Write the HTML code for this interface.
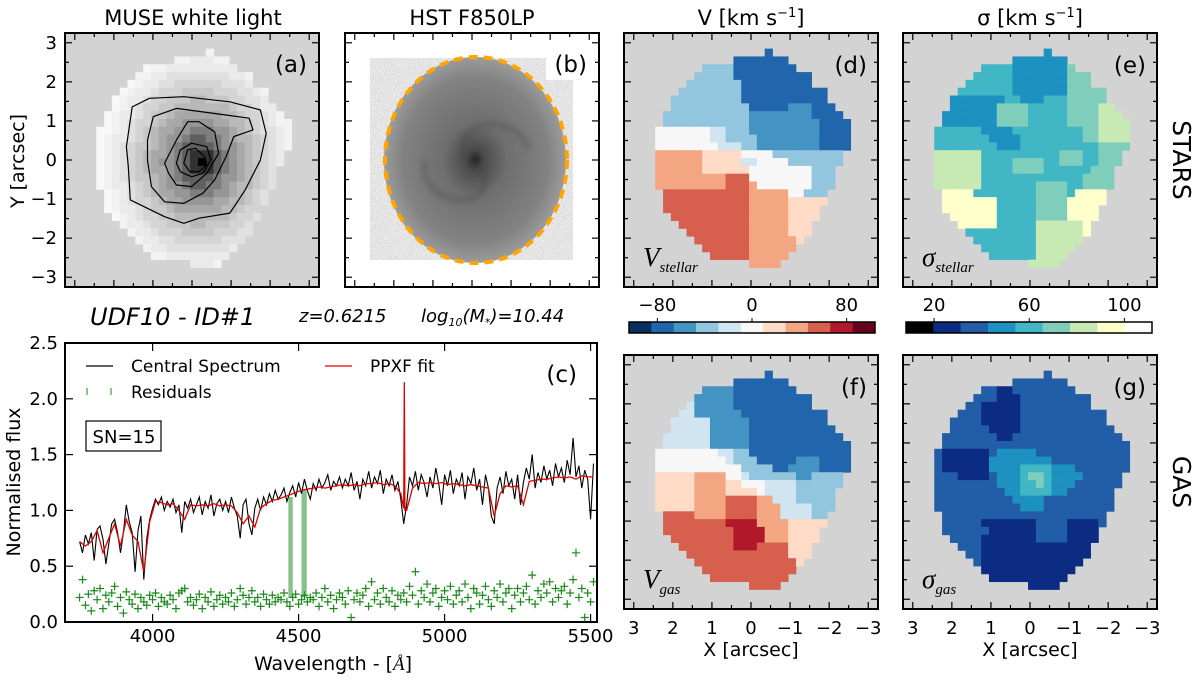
<!DOCTYPE html>
<html><head><meta charset="utf-8">
<style>
html,body{margin:0;padding:0;background:#fff;}
svg{display:block;font-family:"DejaVu Sans","Liberation Sans",sans-serif;}
</style></head>
<body>
<svg id="fig" width="1200" height="680" viewBox="0 0 1200 680" xmlns="http://www.w3.org/2000/svg">
<defs>
<filter id="noise" x="0" y="0" width="100%" height="100%">
<feTurbulence type="fractalNoise" baseFrequency="1.1" numOctaves="1" seed="4" result="t"/>
<feColorMatrix in="t" type="matrix" values="1 0 0 0 0 1 0 0 0 0 1 0 0 0 0 0 0 0 0 1" result="g"/>
<feComponentTransfer in="g" result="d"><feFuncR type="discrete" tableValues="0.55 0.7 0.85 1"/><feFuncG type="discrete" tableValues="0.55 0.7 0.85 1"/><feFuncB type="discrete" tableValues="0.55 0.7 0.85 1"/></feComponentTransfer>
<feComposite in="d" in2="SourceGraphic" operator="in"/>
</filter>
<filter id="blur2"><feGaussianBlur stdDeviation="3"/></filter>
<radialGradient id="galgrad" cx="0.5" cy="0.5" r="0.5">
<stop offset="0" stop-color="#222"/><stop offset="0.1" stop-color="#4a4a4a"/><stop offset="0.35" stop-color="#6e6e6e"/><stop offset="0.8" stop-color="#828282"/><stop offset="1" stop-color="#8e8e8e" stop-opacity="0.85"/>
</radialGradient>
</defs>
<g id="layer"></g>
<text x="193" y="25" font-size="21" text-anchor="middle">MUSE white light</text>
<text x="472" y="25" font-size="21" text-anchor="middle">HST F850LP</text>
<text x="751" y="25" font-size="21" text-anchor="middle">V [km s<tspan font-size="13" dy="-8">−1</tspan><tspan dy="8">]</tspan></text>
<text x="1030" y="25" font-size="21" text-anchor="middle">σ [km s<tspan font-size="13" dy="-8">−1</tspan><tspan dy="8">]</tspan></text>
<text transform="translate(1173,160) rotate(90)" font-size="25" text-anchor="middle">STARS</text>
<text transform="translate(1173,482) rotate(90)" font-size="25" text-anchor="middle">GAS</text>
<text transform="translate(24,161) rotate(-90)" font-size="19" text-anchor="middle">Y [arcsec]</text>
<text x="90" y="325" font-size="24" font-style="italic">UDF10 - ID#1</text>
<text x="299" y="322" font-size="18" font-style="italic">z=0.6215</text>
<text x="421" y="322" font-size="18" font-style="italic">log<tspan font-size="11" dy="4">10</tspan><tspan dy="-4">(M</tspan><tspan font-size="11" dy="4">*</tspan><tspan dy="-4">)=10.44</tspan></text>
<text transform="translate(20,482) rotate(-90)" font-size="19" text-anchor="middle">Normalised flux</text>
<text x="333" y="670" font-size="19" text-anchor="middle">Wavelength - [<tspan font-style="italic" font-family="Liberation Serif, serif">Å</tspan>]</text>
<text x="751" y="656" font-size="19" text-anchor="middle">X [arcsec]</text>
<text x="1030" y="656" font-size="19" text-anchor="middle">X [arcsec]</text>
<script>
const specStart = 3750;
const specStep = 10;
const specFlux = [0.72,0.62,0.78,0.70,0.80,0.55,0.83,0.86,0.74,0.52,
0.70,0.88,0.92,0.80,0.62,0.80,1.05,0.90,0.80,0.45,
0.82,0.95,0.38,0.75,0.92,1.02,1.10,1.05,1.12,1.00,
1.08,1.03,1.10,0.98,1.05,0.80,1.08,1.02,1.10,0.98,
1.05,1.12,0.96,1.08,1.02,1.14,0.95,1.06,1.10,1.00,
1.08,0.98,1.12,1.02,0.95,0.75,1.05,1.10,0.88,0.78,
1.02,1.10,1.00,1.12,1.05,1.15,1.08,1.18,1.10,1.14,
1.20,1.08,1.16,1.22,1.12,1.25,1.15,1.28,1.18,1.10,
1.24,1.18,1.28,1.20,1.25,1.32,1.18,1.26,1.22,1.30,
1.20,1.28,1.22,1.34,1.18,1.26,1.10,1.28,1.22,1.35,
1.20,1.30,1.24,1.36,1.15,1.28,1.22,1.32,1.18,1.26,
1.10,0.88,1.05,1.30,1.22,1.35,1.18,1.32,1.25,1.12,
1.30,1.20,1.38,1.24,1.05,1.32,1.22,1.36,1.15,1.28,
1.22,1.34,1.10,1.30,1.24,1.38,1.18,1.28,1.05,1.32,
1.20,0.95,0.88,1.20,1.30,1.15,1.35,1.22,1.28,1.10,
1.32,1.05,1.25,1.38,1.28,1.50,1.20,1.34,1.25,1.40,
1.28,1.36,1.22,1.42,1.30,1.38,1.25,1.45,1.32,1.65,
1.30,1.40,1.20,1.36,1.28,0.92,1.42];
const fitStart = 3750;
const fitStep = 20;
const fitFlux = [0.72,0.68,0.72,0.82,0.62,0.75,0.88,0.68,0.92,0.78,
0.72,0.45,0.90,1.08,1.07,1.05,1.06,1.00,0.92,1.05,
1.04,1.05,1.04,1.06,1.04,1.05,1.04,0.98,0.88,0.95,
0.85,1.02,1.06,1.09,1.10,1.12,1.14,1.16,1.18,1.19,
1.20,1.21,1.20,1.21,1.22,1.23,1.22,1.23,1.22,1.24,
1.24,1.25,1.23,1.24,1.22,1.15,1.00,1.20,1.25,1.24,
1.25,1.24,1.25,1.23,1.24,1.23,1.22,1.23,1.22,1.21,
1.20,0.95,1.15,1.22,1.21,1.22,1.05,1.26,1.27,1.28,
1.28,1.29,1.30,1.29,1.30,1.28,1.31,1.30,1.30];
const lineWave = [4862];
const linePeak = [2.15];
const residStart = 3750;
const residStep = 10;
const residFlux = [0.22,0.38,0.15,0.25,0.10,0.28,0.20,0.30,0.12,0.24,
0.18,0.26,0.32,0.14,0.22,0.08,0.27,0.20,0.16,0.25,
0.12,0.22,0.18,0.15,0.24,0.20,0.26,0.14,0.22,0.18,
0.16,0.24,0.20,0.12,0.26,0.28,0.30,0.18,0.22,0.15,
0.20,0.25,0.12,0.22,0.18,0.27,0.14,0.20,0.24,0.16,
0.22,0.18,0.26,0.14,0.20,0.30,0.24,0.16,0.22,0.28,
0.18,0.22,0.14,0.25,0.20,0.16,0.24,0.18,0.22,0.20,
0.26,0.18,0.14,0.22,0.25,0.16,0.20,0.24,0.18,0.22,
0.20,0.26,0.14,0.22,0.30,0.18,0.24,0.12,0.20,0.26,
0.22,0.16,0.28,0.04,0.20,0.26,0.18,0.24,0.30,0.14,
0.36,0.20,0.26,0.16,0.30,0.22,0.18,0.28,0.14,0.24,
0.20,0.26,0.18,0.32,0.24,0.45,0.16,0.28,0.22,0.34,
0.18,0.26,0.30,0.14,0.22,0.28,0.20,0.32,0.16,0.24,
0.28,0.18,0.34,0.22,0.12,0.30,0.26,0.16,0.24,0.32,
0.20,0.14,0.28,0.22,0.34,0.18,0.26,0.30,0.12,0.24,
0.30,0.18,0.26,0.32,0.20,0.42,0.16,0.28,0.22,0.34,
0.26,0.36,0.18,0.30,0.22,0.28,0.32,0.16,0.26,0.38,
0.62,0.22,0.30,0.04,0.26,0.18,0.36];
const maskedWaveLo = [4465, 4510];
const maskedWaveHi = [4480, 4528];
const maskedFluxLo = [0.22, 0.22];
const maskedFluxHi = [1.12, 1.18];
const waveTicks = [4000, 4500, 5000, 5500];
const fluxTicks = [0.0, 0.5, 1.0, 1.5, 2.0, 2.5];
const arcsecTicks = [3, 2, 1, 0, -1, -2, -3];

const vPal = ['#053061','#2166ac','#4393c3','#92c5de','#d1e5f0','#f7f7f7','#fddbc7','#f4a582','#d6604d','#b2182b','#67001f'];
const sPal = ['#000000','#0c2c84','#225ea8','#1d91c0','#41b6c4','#7fcdbb','#c7e9b4','#ffffcc','#ffffff'];
const vBarTicks = [-80, 0, 80];
const sBarTicks = [20, 60, 100];

const dMap = [[2,18,"1"],[3,14,"1111111"],[4,10,"333311111111"],[5,9,"333331111111111"],[6,8,"3333333111111111"],
[7,7,"3333333311111111111"],[8,6,"33333333311111111111"],[9,6,"333333333311111222111"],[10,5,"33333333333222222221111"],
[11,5,"333333333332222222221111"],[12,4,"5555555443332222222221111"],[13,4,"5555555443333222222221111"],
[14,4,"5555555544433222222221111"],[15,4,"777777666665555333333333"],[16,4,"777777666664455553333333"],
[17,4,"77777766666655555555333"],[18,4,"77777777788855555555333"],[19,4,"77777777788875555555333"],
[20,5,"888888888887777755333"],[21,5,"888888888887777766666"],[22,5,"88888888888777776666"],
[23,6,"8888888888777776666"],[24,7,"88888888877777666"],[25,8,"8888888877777666"],[26,9,"88888887777776"],
[27,10,"888888777777"],[28,11,"8888877777"],[29,16,"7777"]];
const eMap = [[2,18,"3"],[3,14,"3333333"],[4,10,"444433333335"],[5,9,"444443333333555"],[6,8,"4444443333333555"],
[7,7,"4444444333333355555"],[8,6,"33333334433344455555"],[9,6,"333333555544444555566"],[10,5,"33333335555444445555666"],
[11,5,"333333355554444455556666"],[12,4,"4444443333444444444556666"],[13,4,"4444444333344444444556666"],
[14,4,"4444444433344444444445555"],[15,4,"666666444444444455544555"],[16,4,"666666444455554455544555"],
[17,4,"66666644445555444444555"],[18,4,"66666644444444444445555"],[19,4,"66666644444445555445555"],
[20,5,"777744444444555547777"],[21,5,"777777744444555577777"],[22,5,"77777774444455557777"],
[23,6,"7777774444455557777"],[24,7,"77777444446666667"],[25,8,"4444444446666667"],[26,9,"44444444666666"],
[27,10,"444444466666"],[28,11,"4444446666"],[29,16,"6666"]];
const fMap = [[2,18,"1"],[3,14,"1111111"],[4,10,"222211111111"],[5,9,"222221111111111"],[6,8,"4222221111111111"],
[7,7,"4422222211111111111"],[8,6,"44444222221111111111"],[9,6,"444442222211111111111"],[10,5,"44444422222111111111111"],
[11,5,"444444222221111111111111"],[12,4,"5555555544331111111111111"],[13,4,"5555555554333111112221111"],
[14,4,"5555555555533331122221111"],[15,4,"666667777554333333223333"],[16,4,"666667777665554444333333"],
[17,4,"66666777766665444433333"],[18,4,"66666777788887744433333"],[19,4,"66666777788887774444333"],
[20,5,"888877778888777444433"],[21,5,"888888889999777766666"],[22,5,"88888888899997776666"],
[23,6,"8888888899997776666"],[24,7,"88888889998888666"],[25,8,"8888888888888666"],[26,9,"88888888888886"],
[27,10,"888888888888"],[28,11,"8888888888"],[29,16,"8888"]];
const gMap = [[2,18,"2"],[3,14,"2222222"],[4,10,"221122222222"],[5,9,"222111222222222"],[6,8,"2211111222222222"],
[7,7,"2221111122222222222"],[8,6,"22221111122222222222"],[9,6,"222221111222222222222"],[10,5,"22222221122222222222222"],
[11,5,"222222222222222222222222"],[12,4,"2111111233333222222222222"],[13,4,"2111111333333332222222222"],
[14,4,"2111111333344443332222222"],[15,4,"222111123334554333322222"],[16,4,"222222223334454333222222"],
[17,4,"22222222233444433222222"],[18,4,"22222222223333222222222"],[19,4,"22222222222333222222222"],
[20,5,"222222222222222222222"],[21,5,"222221111111222211112"],[22,5,"22222211111122221111"],
[23,6,"2222111111122221111"],[24,7,"22211111111111111"],[25,8,"2211111111111111"],[26,9,"21111111111111"],
[27,10,"111111111111"],[28,11,"1111111111"],[29,16,"1111"]];
const wlProfile = [0,50,95,125,150,168,185,200,212,224,234,242,248,251,253,254,255,255,255];
const contour1 = [[1.68,0.34],[1.53,1.36],[1.09,1.58],[0.21,1.62],[-0.97,1.49],[-1.75,1.28],[-1.90,0.68],[-1.75,0.0],[-1.36,-0.77],[-0.97,-1.36],[-0.18,-1.49],[0.21,-1.62],[0.70,-1.45],[1.58,-1.02],[1.63,-0.17]];
const contour2 = [[1.14,0.51],[0.99,1.11],[0.40,1.32],[-0.58,1.19],[-1.46,1.07],[-1.56,0.77],[-1.07,0.60],[-0.87,0.08],[-0.58,-0.51],[-0.28,-0.85],[0.21,-1.11],[0.70,-1.07],[1.04,-0.68],[1.14,0.0]];
const contour3 = [[0.70,-0.08],[0.40,0.51],[0.11,0.98],[-0.18,0.98],[-0.58,0.72],[-0.68,0.17],[-0.38,-0.34],[0.01,-0.68],[0.40,-0.64],[0.60,-0.34]];
const contour4 = [[0.40,-0.08],[0.30,0.26],[0.01,0.43],[-0.38,0.34],[-0.48,0.0],[-0.28,-0.34],[0.01,-0.43],[0.30,-0.30]];
const contour5 = [[0.21,-0.08],[0.11,0.26],[-0.09,0.30],[-0.33,0.08],[-0.38,-0.13],[-0.18,-0.30],[0.06,-0.30]];

const NS = 'http://www.w3.org/2000/svg';
const layer = document.getElementById('layer');
function add(tag, attrs, parent) {
  const el = document.createElementNS(NS, tag);
  for (const k in attrs) el.setAttribute(k, attrs[k]);
  (parent || layer).appendChild(el);
  return el;
}
const CS = 254 / 32.5;
const PXA = 254 / 6.5;
const panels = {
  a: {x: 65, y: 33}, b: {x: 345, y: 33}, d: {x: 624, y: 33}, e: {x: 903, y: 33},
  f: {x: 624, y: 355}, g: {x: 903, y: 355}
};
function ax(p, v) { return p.x + 127 - v * PXA; }
function ay(p, v) { return p.y + 127 - v * PXA; }

function drawMap(p, rows, pal, name) {
  const g = add('g', {});
  
  
  rows.forEach(r => {
    const row = r[0], start = r[1], s = r[2];
    for (let i = 0; i < s.length; i++) {
      const c = s[i] === 'a' ? 10 : parseInt(s[i], 10);
      const rc = add('rect', {x: (p.x + (start + i) * CS).toFixed(2), y: (p.y + row * CS).toFixed(2), width: (CS + 0.4).toFixed(2), height: (CS + 0.4).toFixed(2), fill: pal[c]}, g);
      
      
    }
  });
}
function panelFrame(p, name, w, h) {
  const r = add('rect', {x: p.x, y: p.y, width: w, height: h, fill: 'none', stroke: '#000', 'stroke-width': 2});
  
  
}
function mapTicks(p, name) {
  const g = add('g', {stroke: '#000', 'stroke-width': 1.2});
  
  
  for (let k = -6; k <= 6; k++) {
    const v = k / 2, len = (k % 2 === 0) ? 7 : 4;
    const x = ax(p, v), y = ay(p, v);
    add('line', {x1: x, y1: p.y + 254, x2: x, y2: p.y + 254 - len}, g);
    add('line', {x1: x, y1: p.y, x2: x, y2: p.y + len}, g);
    add('line', {x1: p.x, y1: y, x2: p.x + len, y2: y}, g);
    add('line', {x1: p.x + 254, y1: y, x2: p.x + 254 - len, y2: y}, g);
  }
}
function label(x, y, txt, size, anchor, name, extra) {
  const t = add('text', Object.assign({x: x, y: y, 'font-size': size, 'text-anchor': anchor || 'start'}, extra || {}));
  t.textContent = txt;
  
  
  return t;
}
function fmtNum(v) { return v < 0 ? '−' + Math.abs(v) : String(v); }

(function () {
  const p = panels.a;
  const bg = add('rect', {x: p.x, y: p.y, width: 254, height: 254, fill: '#d3d3d3'});
  
  
  const g = add('g', {});
  
  
  dMap.forEach(r => {
    for (let i = 0; i < r[2].length; i++) {
      const col = r[1] + i, row = r[0];
      const dx = (col - 16.7) * 0.95, dy = (row - 16.0) * 0.8;
      const rr = Math.min(wlProfile.length - 1, Math.round(Math.sqrt(dx * dx + dy * dy)));
      const gv = wlProfile[rr];
      const c = add('rect', {x: (p.x + col * CS).toFixed(2), y: (p.y + row * CS).toFixed(2), width: (CS + 0.4).toFixed(2), height: (CS + 0.4).toFixed(2), fill: 'rgb(' + gv + ',' + gv + ',' + gv + ')'}, g);
      
      
    }
  });
  [contour1, contour2, contour3, contour4, contour5].forEach((cn, i) => {
    const pts = cn.map(q => ax(p, q[0]).toFixed(1) + ',' + ay(p, q[1]).toFixed(1)).join(' ');
    const pl = add('polygon', {points: pts, fill: 'none', stroke: '#000', 'stroke-width': 1.2, 'stroke-linejoin': 'round'});
    
    
  });
  mapTicks(p, 'panel-a');
  panelFrame(p, 'panel-a', 254, 254);
  arcsecTicks.forEach(v => label(57, ay(p, v) + 6, fmtNum(v), 18, 'end', 'y-tick-label'));
  label(307, 72, '(a)', 23, 'end', 'panel-label-a');
})();

(function () {
  const p = panels.b;
  const bg = add('rect', {x: p.x, y: p.y, width: 254, height: 254, fill: '#fff'});
  
  
  const n = add('path', {d: 'M370,58 H546 V80 H573 V260 H370 Z', fill: '#bbb', filter: 'url(#noise)'});
  
  
  const gal = add('ellipse', {cx: 475, cy: 160, rx: 91, ry: 103, fill: 'url(#galgrad)'});
  
  
  const arms = add('path', {d: 'M474,163 C455,150 462,128 485,125 C510,122 525,135 528,150 M474,163 C495,178 485,200 460,200 C435,198 420,180 425,160', fill: 'none', stroke: '#444', 'stroke-width': 5, opacity: 0.35, filter: 'url(#blur2)'});
  
  
  const el = add('ellipse', {cx: 476, cy: 160, rx: 91, ry: 103, fill: 'none', stroke: '#ffa500', 'stroke-width': 4, 'stroke-dasharray': '9 6'});
  
  
  mapTicks(p, 'panel-b');
  panelFrame(p, 'panel-b', 254, 254);
  label(587, 72, '(b)', 23, 'end', 'panel-label-b');
})();

function mapPanel(key, rows, pal, letter, sym, sub) {
  const p = panels[key];
  const bg = add('rect', {x: p.x, y: p.y, width: 254, height: 254, fill: '#d3d3d3'});
  
  
  drawMap(p, rows, pal, 'map-' + key);
  mapTicks(p, 'panel-' + key);
  panelFrame(p, 'panel-' + key, 254, 254);
  label(p.x + 243, p.y + 40, '(' + letter + ')', 23, 'end', 'panel-label-' + letter);
  const t = add('text', {x: p.x + 19, y: p.y + 233, 'font-size': 27, 'font-style': 'italic', 'font-family': 'Liberation Serif, serif'});
  
  
  t.textContent = sym;
  const ts = add('tspan', {'font-size': 15, dy: 6});
  
  
  ts.textContent = sub;
  t.appendChild(ts);
}
mapPanel('d', dMap, vPal, 'd', 'V', 'stellar');
mapPanel('e', eMap, sPal, 'e', 'σ', 'stellar');
mapPanel('f', fMap, vPal, 'f', 'V', 'gas');
mapPanel('g', gMap, sPal, 'g', 'σ', 'gas');
['f', 'g'].forEach(k => arcsecTicks.forEach(v => label(ax(panels[k], v), 634, fmtNum(v), 18, 'middle', 'x-tick-label-' + k)));

function colorbar(x0, w, pal, vmin, vmax, ticks, name) {
  const n = pal.length, sw = w / n;
  pal.forEach((c, i) => {
    const r = add('rect', {x: (x0 + i * sw).toFixed(2), y: 322, width: (sw + 0.3).toFixed(2), height: 11, fill: c});
    
    
  });
  const fr = add('rect', {x: x0, y: 322, width: w, height: 11, fill: 'none', stroke: '#000', 'stroke-width': 1.5});
  
  
  ticks.forEach(v => {
    const x = x0 + (v - vmin) / (vmax - vmin) * w;
    const tl = add('line', {x1: x, y1: 318, x2: x, y2: 322, stroke: '#000', 'stroke-width': 1});
    
    
    label(x, 311, fmtNum(v), 18, 'middle', name + '-tick-label');
  });
}
colorbar(629, 246, vPal, -104, 104, vBarTicks, 'velocity-colorbar');
colorbar(906, 246, sPal, 8.2, 111.6, sBarTicks, 'sigma-colorbar');

(function () {
  const X0 = 65, X1 = 597, Y0 = 343, Y1 = 622;
  const wMin = 3700, wMax = 5522, fMin = 0, fMax = 2.5;
  const sx = w => X0 + (w - wMin) / (wMax - wMin) * (X1 - X0);
  const sy = f => Y1 - (f - fMin) / (fMax - fMin) * (Y1 - Y0);
  const clip = add('clipPath', {id: 'cclip'});
  add('rect', {x: X0, y: Y0, width: X1 - X0, height: Y1 - Y0}, clip);
  const g = add('g', {'clip-path': 'url(#cclip)'});
  
  
  maskedWaveLo.forEach((wl, i) => {
    const r = add('rect', {x: sx(wl), y: sy(maskedFluxHi[i]), width: sx(maskedWaveHi[i]) - sx(wl), height: sy(maskedFluxLo[i]) - sy(maskedFluxHi[i]), fill: '#3a9a3a', opacity: 0.6}, g);
    
    
  });
  residFlux.forEach((v, i) => {
    const x = sx(residStart + i * residStep), y = sy(v);
    const pm = add('path', {d: 'M' + (x - 4) + ',' + y + 'H' + (x + 4) + 'M' + x + ',' + (y - 4) + 'V' + (y + 4), stroke: '#1a8a1a', 'stroke-width': 1.2}, g);
    
    
  });
  const sp = specFlux.map((v, i) => sx(specStart + i * specStep).toFixed(1) + ',' + sy(v).toFixed(1)).join(' ');
  const spl = add('polyline', {points: sp, fill: 'none', stroke: '#000', 'stroke-width': 1.1}, g);
  
  
  const pts = fitFlux.map((v, i) => [fitStart + i * fitStep, v]);
  lineWave.forEach((lw, i) => {
    pts.push([lw - 2, 1.02]); pts.push([lw, linePeak[i]]); pts.push([lw + 2, 1.0]);
  });
  pts.sort((a, b) => a[0] - b[0]);
  const fp = pts.map(q => sx(q[0]).toFixed(1) + ',' + sy(q[1]).toFixed(1)).join(' ');
  const fpl = add('polyline', {points: fp, fill: 'none', stroke: '#e00000', 'stroke-width': 1.3}, g);
  
  
  const tg = add('g', {stroke: '#000', 'stroke-width': 1.2});
  
  
  waveTicks.forEach(w => {
    const x = sx(w);
    add('line', {x1: x, y1: Y1, x2: x, y2: Y1 - 8}, tg);
    add('line', {x1: x, y1: Y0, x2: x, y2: Y0 + 8}, tg);
    label(x, 642, String(w), 18, 'middle', 'x-tick-label-wavelength');
  });
  fluxTicks.forEach(f => {
    const y = sy(f);
    add('line', {x1: X0, y1: y, x2: X0 + 8, y2: y}, tg);
    add('line', {x1: X1, y1: y, x2: X1 - 8, y2: y}, tg);
    label(58, y + 6, f.toFixed(1), 18, 'end', 'y-tick-label-flux');
  });
  const fr = add('rect', {x: X0, y: Y0, width: X1 - X0, height: Y1 - Y0, fill: 'none', stroke: '#000', 'stroke-width': 2});
  
  
  const l1 = add('line', {x1: 86, y1: 366, x2: 113, y2: 366, stroke: '#000', 'stroke-width': 1.2});
  
  
  label(131, 372, 'Central Spectrum', 17, 'start', 'legend-central-spectrum');
  const l2 = add('line', {x1: 325, y1: 366, x2: 352, y2: 366, stroke: '#e00000', 'stroke-width': 1.2});
  
  
  label(370, 372, 'PPXF fit', 17, 'start', 'legend-ppxf-fit');
  const l3 = add('path', {d: 'M87,388 V395 M111,388 V395', stroke: '#1a8a1a', 'stroke-width': 1});
  
  
  label(131, 398, 'Residuals', 17, 'start', 'legend-residuals');
  const sb = add('rect', {x: 86, y: 421, width: 75, height: 30, fill: '#fff', stroke: '#000', 'stroke-width': 1.2});
  
  
  label(124, 443, 'SN=15', 18, 'middle', 'sn-label');
  label(577, 382, '(c)', 23, 'end', 'panel-label-c');
})();
</script>
</svg>
</body></html>
